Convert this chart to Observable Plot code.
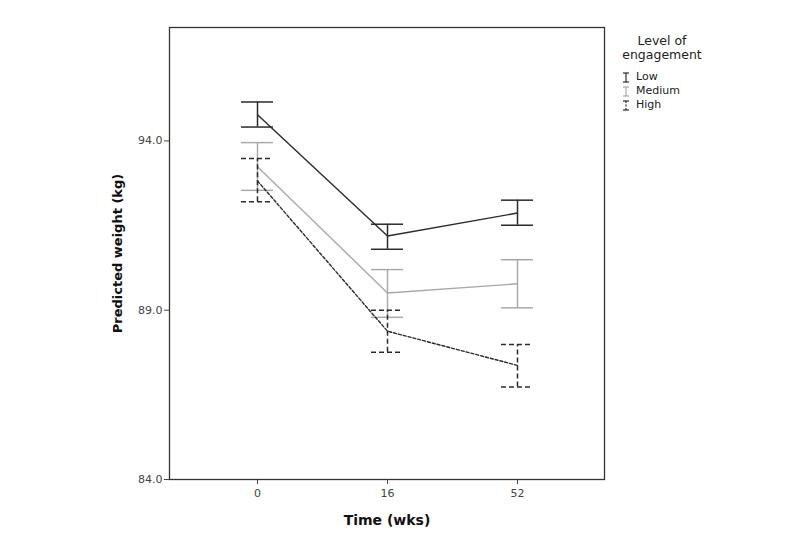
<!DOCTYPE html>
<html>
<head>
<meta charset="utf-8">
<script src="https://cdn.jsdelivr.net/npm/d3@7"></script>
<script src="https://cdn.jsdelivr.net/npm/@observablehq/plot@0.6"></script>
<style>
  html, body { margin: 0; padding: 0; background: #fff; }
  #wrap { position: relative; width: 800px; height: 535px; font-family: "DejaVu Sans", Verdana, sans-serif; }
  #legend { position: absolute; left: 606px; top: 34px; width: 112px; color: #222; }
  #legend .title { text-align: center; font-size: 12.5px; line-height: 14px; }
  #legend .item { position: absolute; left: 16px; font-size: 11px; line-height: 12px; display: flex; align-items: center; }
  #legend svg { margin-right: 6px; }
</style>
</head>
<body>
<div id="wrap"></div>
<script>
// ---- data ----
const times = ["0", "16", "52"];
const groups = ["Low", "Medium", "High"];
const lowMean  = [94.77, 91.19, 91.87];
const lowLo    = [94.41, 90.80, 91.51];
const lowHi    = [95.15, 91.54, 92.25];
const medMean  = [93.24, 89.51, 89.78];
const medLo    = [92.54, 88.79, 89.07];
const medHi    = [93.95, 90.20, 90.49];
const highMean = [92.82, 88.38, 87.37];
const highLo   = [92.20, 87.76, 86.73];
const highHi   = [93.48, 89.00, 87.99];
const yTicks = [84, 89, 94];

const series = {
  Low:    {mean: lowMean,  lo: lowLo,  hi: lowHi},
  Medium: {mean: medMean,  lo: medLo,  hi: medHi},
  High:   {mean: highMean, lo: highLo, hi: highHi}
};
const styles = {
  Low:    {stroke: "#2b2b2b", lineDash: null,  barDash: null},
  Medium: {stroke: "#a9a9a9", lineDash: null,  barDash: null},
  High:   {stroke: "#2b2b2b", lineDash: "3,2", barDash: "5,3"}
};

const rows = [];
for (const g of groups) {
  times.forEach((t, i) => rows.push({group: g, time: t, mean: series[g].mean[i], lo: series[g].lo[i], hi: series[g].hi[i]}));
}

const marks = [Plot.frame({stroke: "#333", strokeWidth: 1.3})];
for (const g of groups) {
  const d = rows.filter(r => r.group === g);
  const s = styles[g];
  marks.push(Plot.ruleX(d, {x: "time", y1: "lo", y2: "hi", stroke: s.stroke, strokeWidth: 1.5, strokeDasharray: s.barDash}));
  marks.push(Plot.tickY(d, {x: "time", y: "lo", stroke: s.stroke, strokeWidth: 1.5, strokeDasharray: s.barDash}));
  marks.push(Plot.tickY(d, {x: "time", y: "hi", stroke: s.stroke, strokeWidth: 1.5, strokeDasharray: s.barDash}));
  marks.push(Plot.line(d, {x: "time", y: "mean", stroke: s.stroke, strokeWidth: 1.4, strokeDasharray: s.lineDash}));
}
marks.push(Plot.axisY({ticks: yTicks, tickFormat: d3.format(".1f"), tickSize: 5, tickPadding: 2, fontSize: 11, color: "#444",
  label: "Predicted weight (kg)", labelAnchor: "center", labelOffset: 57, labelArrow: "none"}));
marks.push(Plot.axisX({tickSize: 5, tickPadding: 5, fontSize: 11, color: "#444",
  label: "Time (wks)", labelAnchor: "center", labelOffset: 45, labelArrow: "none"}));

const chart = Plot.plot({
  width: 800,
  height: 535,
  marginLeft: 169,
  marginRight: 196,
  marginTop: 27,
  marginBottom: 56,
  style: {fontFamily: "DejaVu Sans, Verdana, sans-serif", background: "#fff", overflow: "visible"},
  x: {type: "band", domain: times, paddingInner: 0.754, paddingOuter: 0.55},
  y: {domain: [84, 97.35]},
  marks
});
d3.select(chart).selectAll("g[aria-label='x-axis label'] text")
  .style("font-weight", "bold").style("font-size", "14px").attr("fill", "#111");
d3.select(chart).selectAll("g[aria-label='y-axis label'] text")
  .style("font-weight", "bold").style("font-size", "13px").attr("fill", "#111");
document.getElementById("wrap").appendChild(chart);

// legend
const legend = document.createElement("div");
legend.id = "legend";
let html = '<div class="title">Level of<br>engagement</div>';
groups.forEach((g, i) => {
  const s = styles[g];
  const dash = s.barDash ? 'stroke-dasharray="2,1.5"' : '';
  html += `<div class="item" style="top:${37 + i * 14}px"><svg width="8" height="11">
    <line x1="4" x2="4" y1="1" y2="10" stroke="${s.stroke}" stroke-width="1.2" ${dash}/>
    <line x1="1" x2="7" y1="1" y2="1" stroke="${s.stroke}" stroke-width="1.2"/>
    <line x1="1" x2="7" y1="10" y2="10" stroke="${s.stroke}" stroke-width="1.2"/></svg>${g}</div>`;
});
legend.innerHTML = html;
document.getElementById("wrap").appendChild(legend);
</script>
</body>
</html>
